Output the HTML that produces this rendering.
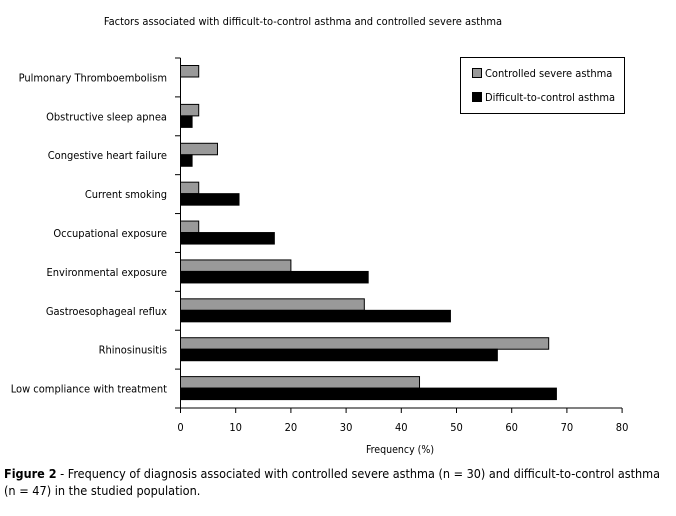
<!DOCTYPE html>
<html><head><style>
body{margin:0;background:#fff;width:676px;height:511px;overflow:hidden}
svg{font-family:"DejaVu Sans Condensed","Liberation Sans Narrow","Liberation Sans",sans-serif}
</style></head><body>
<svg width="676" height="511" xmlns="http://www.w3.org/2000/svg">
<text x="303" y="25" font-size="11" text-anchor="middle">Factors associated with difficult-to-control asthma and controlled severe asthma</text>
<g id="bars" stroke="#000" stroke-width="1"></g>
<line x1="180.5" y1="58" x2="180.5" y2="408" stroke="#000"/>
<line x1="180.5" y1="408" x2="622" y2="408" stroke="#000"/>
<g id="ticks" stroke="#000"></g>
<g id="labels" font-size="11" text-anchor="end"></g>
<g id="xl" font-size="11" text-anchor="middle"></g>
<text x="400" y="453" font-size="10.5" text-anchor="middle">Frequency (%)</text>
<rect x="460.5" y="57.5" width="164" height="56" fill="#fff" stroke="#000"/>
<rect x="472.5" y="68.5" width="9" height="9" fill="#999" stroke="#000"/>
<text x="485" y="77" font-size="11">Controlled severe asthma</text>
<rect x="472.5" y="92.5" width="9" height="9" fill="#000" stroke="#000"/>
<text x="485" y="101" font-size="11">Difficult-to-control asthma</text>
<text x="4" y="478" font-size="12.6" textLength="656" lengthAdjust="spacingAndGlyphs"><tspan font-weight="bold">Figure 2</tspan> - Frequency of diagnosis associated with controlled severe asthma (n = 30) and difficult-to-control asthma</text>
<text x="4" y="495" font-size="12.6">(n = 47) in the studied population.</text>
</svg>
<script>
var cats=[["Pulmonary Thromboembolism",3.3,0],["Obstructive sleep apnea",3.3,2.1],["Congestive heart failure",6.7,2.1],["Current smoking",3.3,10.6],["Occupational exposure",3.3,17],["Environmental exposure",20,34],["Gastroesophageal reflux",33.3,48.9],["Rhinosinusitis",66.7,57.4],["Low compliance with treatment",43.3,68.1]];
var ns="http://www.w3.org/2000/svg",x0=180.5,sc=5.52,top0=58,step=(408-58)/9;
function el(p,t,a,txt){var e=document.createElementNS(ns,t);for(var k in a)e.setAttribute(k,a[k]);if(txt)e.textContent=txt;document.getElementById(p).appendChild(e);}
cats.forEach(function(c,i){var t=top0+i*step;
 el("labels","text",{x:167,y:t+step/2+4},c[0]);
 if(c[1]>0)el("bars","rect",{x:x0,y:t+7.5,width:c[1]*sc,height:11.5,fill:"#999"});
 if(c[2]>0)el("bars","rect",{x:x0,y:t+19,width:c[2]*sc,height:11.5,fill:"#000"});
});
for(var i=0;i<=9;i++){var y=top0+i*step;el("ticks","line",{x1:175,y1:y,x2:180.5,y2:y});}
for(var v=0;v<=80;v+=10){var x=x0+v*sc;el("ticks","line",{x1:x,y1:408,x2:x,y2:413});el("xl","text",{x:x,y:431},""+v);}
</script>
</body></html>
